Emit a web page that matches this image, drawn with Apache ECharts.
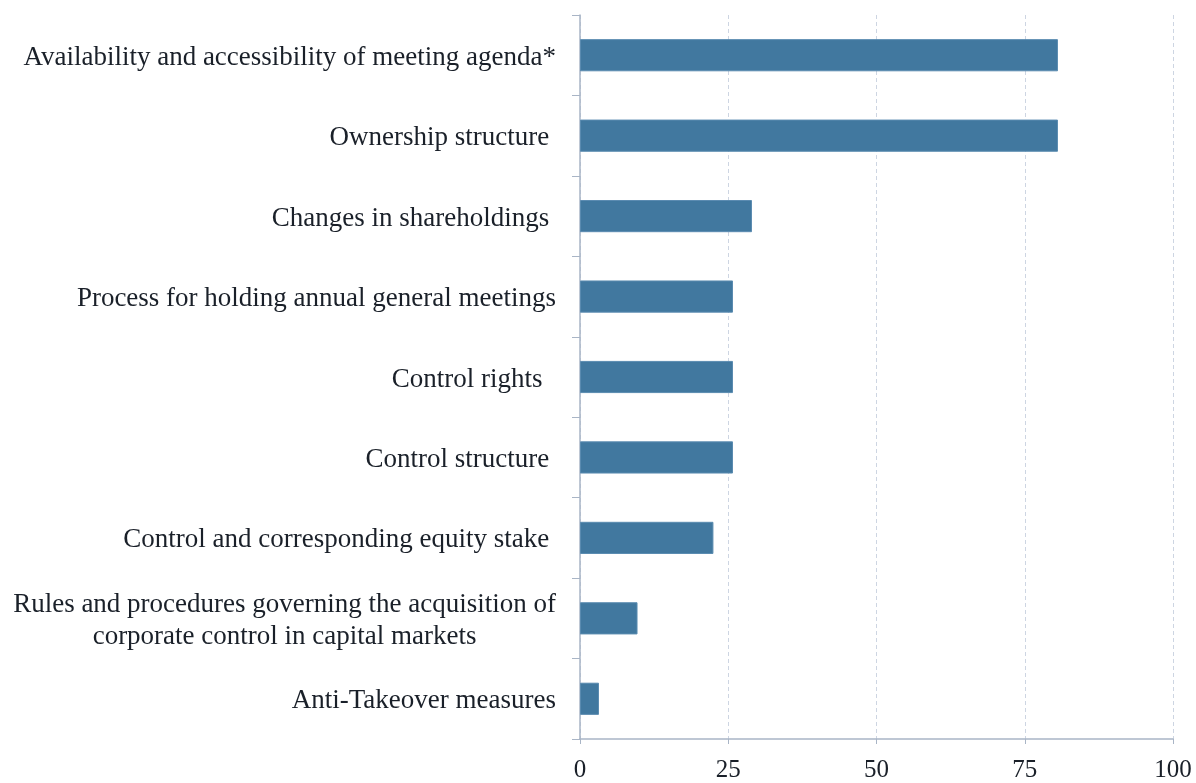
<!DOCTYPE html>
<html>
<head>
<meta charset="utf-8">
<script src="https://cdn.jsdelivr.net/npm/echarts@6/dist/echarts.min.js"></script>
<style>
  html, body { margin: 0; padding: 0; background: #ffffff; }
  #chart { width: 1196px; height: 783px; }
</style>
</head>
<body>
<div id="chart"></div>
<script>
// Disclosure items, top to bottom
const categories = [
  'Availability and accessibility of meeting agenda*',
  'Ownership structure ',
  'Changes in shareholdings ',
  'Process for holding annual general meetings',
  'Control rights  ',
  'Control structure ',
  'Control and corresponding equity stake ',
  'Rules and procedures governing the acquisition of\ncorporate control in capital markets',
  'Anti-Takeover measures'
];

// Share of firms disclosing each item (%)
const values = [80.6, 80.6, 29.0, 25.8, 25.8, 25.8, 22.5, 9.7, 3.2];

// Value axis ticks
const xTicks = [0, 25, 50, 75, 100];

const fontFamily = '"Liberation Serif", "Times New Roman", serif';
const axisColor = '#a9b5c6';
const textColor = '#1a2029';
const labelSize = 27;

const chart = echarts.init(document.getElementById('chart'), null, { renderer: 'canvas' });

chart.setOption({
  animation: false,
  backgroundColor: '#ffffff',
  grid: { left: 580, right: 23, top: 15, bottom: 41, containLabel: false },
  xAxis: {
    type: 'value',
    min: xTicks[0],
    max: xTicks[xTicks.length - 1],
    interval: xTicks[1] - xTicks[0],
    axisLine: { show: true, lineStyle: { color: axisColor, width: 1.5 } },
    axisTick: { show: true, length: 5, lineStyle: { color: axisColor } },
    splitLine: { show: true, lineStyle: { color: '#cdd5e2', type: [4, 3], width: 1 } },
    axisLabel: {
      color: textColor,
      fontFamily: fontFamily,
      fontSize: 25,
      margin: 19
    }
  },
  yAxis: {
    type: 'category',
    inverse: true,
    data: categories,
    axisLine: { show: true, lineStyle: { color: axisColor, width: 1.5 } },
    axisTick: { show: true, length: 8, alignWithLabel: false, lineStyle: { color: axisColor } },
    splitLine: { show: false },
    axisLabel: {
      color: textColor,
      fontFamily: fontFamily,
      fontSize: labelSize,
      margin: 24,
      align: 'right',
      lineHeight: 32,
      padding: [5, 0, 0, 0],
      formatter: function (v) {
        if (v.indexOf('\n') >= 0) {
          return v.split('\n').map(function (s) { return '{c|' + s + '}'; }).join('\n');
        }
        return v;
      },
      rich: {
        c: {
          align: 'center',
          color: textColor,
          fontFamily: fontFamily,
          fontSize: labelSize,
          lineHeight: 32
        }
      }
    }
  },
  series: [{
    type: 'bar',
    data: values,
    barCategoryGap: '60%',
    itemStyle: {
      color: '#41789f',
      borderColor: '#5a8bb0',
      borderWidth: 1
    }
  }]
});
</script>
</body>
</html>
